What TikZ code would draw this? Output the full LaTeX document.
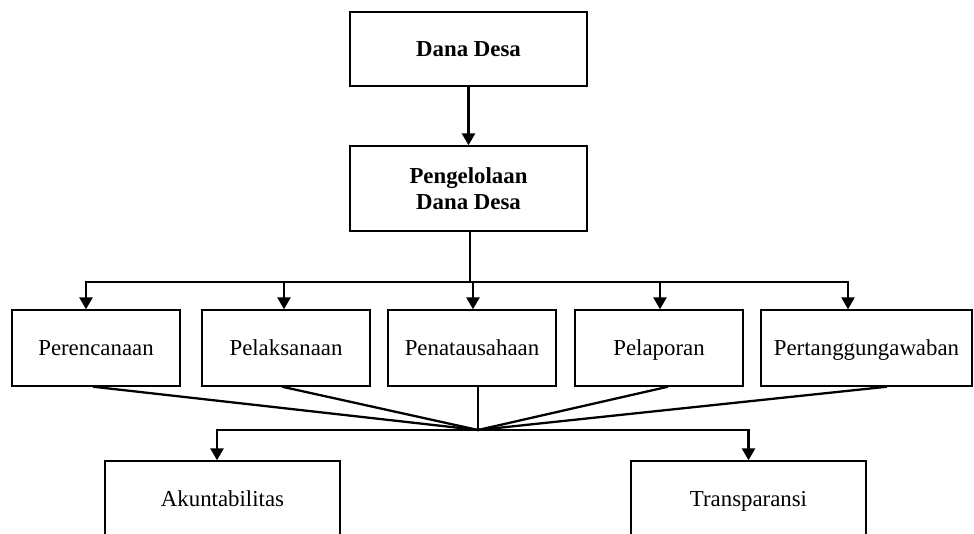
\documentclass[tikz,border=0pt]{standalone}
\usepackage{fontspec}
\setmainfont{Liberation Serif}
\usetikzlibrary{arrows.meta}
\begin{document}
\begin{tikzpicture}[x=0.02cm,y=-0.02cm,
	box/.style={draw,line width=0.8pt,font=\fontsize{13}{14.5}\selectfont,align=center,inner sep=0pt,text height=0.95em,text depth=0.11em},
	arr/.style={line width=1.5pt,-{Triangle[width=0.26cm,length=0.24cm]}},
	link/.style={line width=1.3pt}]
	\clip (0,0) rectangle (974,534);
	\node[box,minimum width=4.74cm,minimum height=1.48cm,font=\fontsize{13}{14.5}\selectfont\bfseries] (dana) at (468.5,49) {Dana Desa};
	\node[box,minimum width=4.74cm,minimum height=1.7cm,text height=,text depth=,font=\fontsize{13}{14.5}\selectfont\bfseries] (kelola) at (468.5,188.5) {Pengelolaan\\Dana Desa};

	\node[box,minimum width=3.36cm,minimum height=1.52cm] (ren) at (96,348) {Perencanaan};
	\node[box,minimum width=3.36cm,minimum height=1.52cm] (lak) at (286,348) {Pelaksanaan};
	\node[box,minimum width=3.36cm,minimum height=1.52cm] (tau) at (472,348) {Penatausahaan};
	\node[box,minimum width=3.36cm,minimum height=1.52cm] (lap) at (659,348) {Pelaporan};
	\node[box,minimum width=4.22cm,minimum height=1.52cm] (tgj) at (866.5,348) {Pertanggungawaban};

	\node[box,minimum width=4.7cm,minimum height=1.52cm] (akun) at (222.5,499) {Akuntabilitas};
	\node[box,minimum width=4.7cm,minimum height=1.52cm] (trans) at (748.5,499) {Transparansi};

	\coordinate (bus) at (470,282);
	\coordinate (hub) at (478,430);

	\draw[arr] (dana) -- (kelola);
	\draw[arr,-] (kelola.south -| bus) -- (bus);
	\draw[arr] (bus) -| ([xshift=-0.2cm]ren.north);
	\draw[arr] (bus) -| ([xshift=-0.04cm]lak.north);
	\draw[arr] (bus) -| ([xshift=0.02cm]tau.north);
	\draw[arr] (bus) -| ([xshift=0.02cm]lap.north);
	\draw[arr] (bus) -| ([xshift=-0.37cm]tgj.north);

	\draw[link] ([xshift=-0.06cm]ren.south) -- (hub);
	\draw[link] ([xshift=-0.08cm]lak.south) -- (hub);
	\draw[arr,-] (tau.south -| hub) -- (hub);
	\draw[link] ([xshift=0.18cm]lap.south) -- (hub);
	\draw[link] ([xshift=0.41cm]tgj.south) -- (hub);

	\draw[arr] (hub) -| ([xshift=-0.11cm]akun.north);
	\draw[arr] (hub) -| (trans.north);
\end{tikzpicture}
\end{document}
